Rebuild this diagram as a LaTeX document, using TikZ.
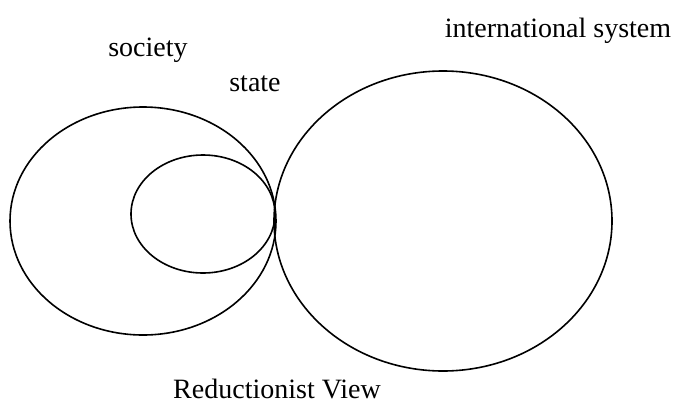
\documentclass[tikz,border=0pt]{standalone}
\usepackage{fontspec}
\setmainfont{Liberation Serif}
\begin{document}
\begin{tikzpicture}[x=1pt,y=-1pt,
  ring/.style={draw=black,line width=1.6pt},
  lbl/.style={font=\fontsize{28}{32}\selectfont,inner sep=0pt}]
\useasboundingbox (0,0) rectangle (678,413);
\draw[ring] (143,221) ellipse [x radius=133, y radius=114];
\draw[ring] (203,214) ellipse [x radius=72, y radius=59];
\draw[ring] (443,221) ellipse [x radius=169, y radius=150];
\node[lbl] (society) at (148,50) {society};
\node[lbl] (state) at (255,84) {state};
\node[lbl] (intl) at (558,31) {international system};
\node[lbl] (title) at (277,389) {Reductionist View};
\end{tikzpicture}
\end{document}
